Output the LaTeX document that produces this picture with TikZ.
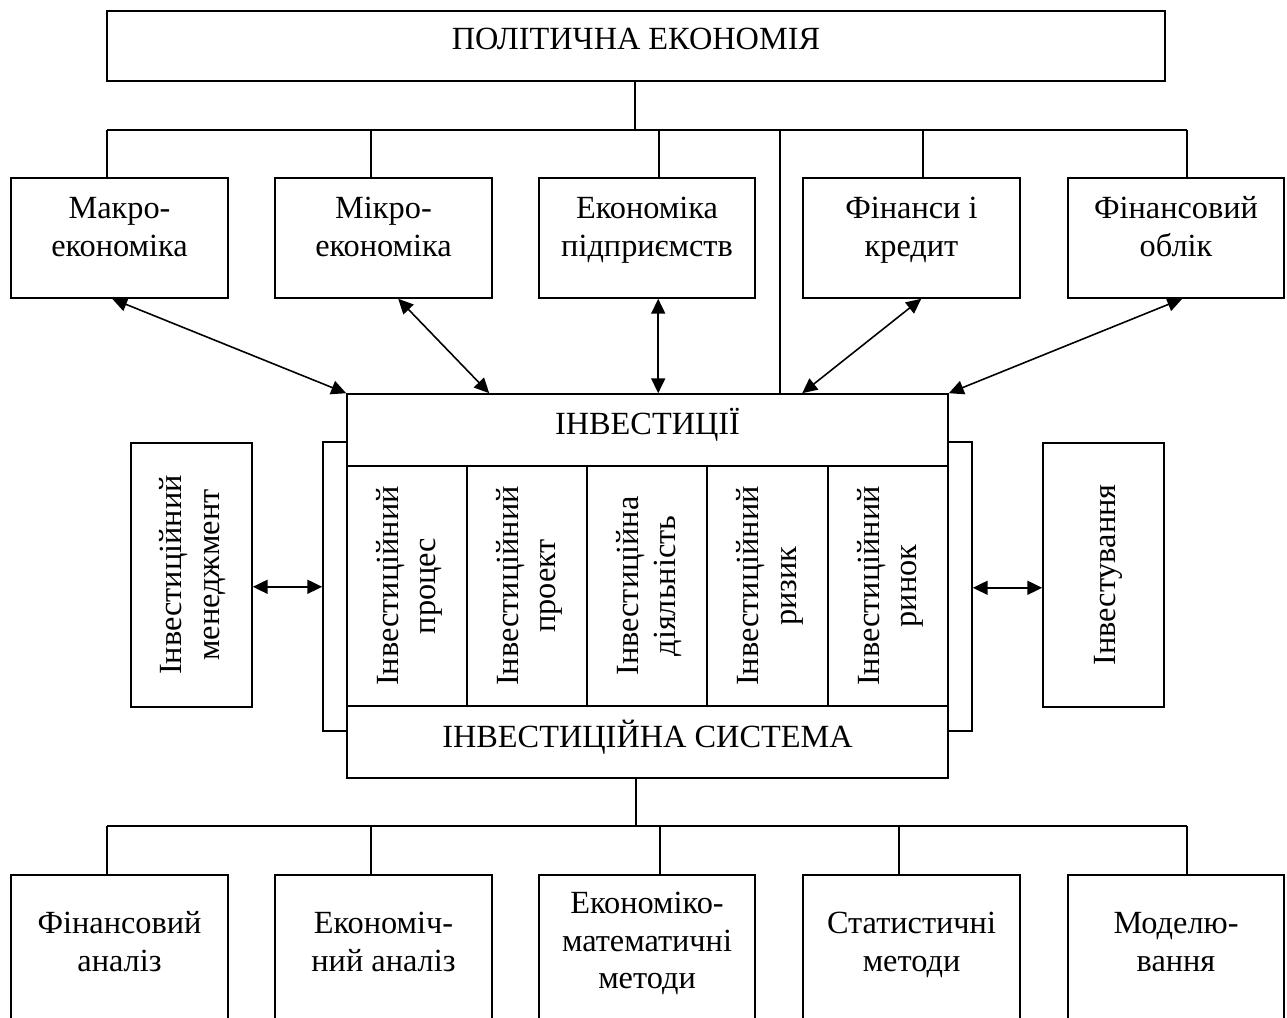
\documentclass[tikz,border=0pt]{standalone}
\usepackage{fontspec}
\setmainfont{Liberation Serif}
\usetikzlibrary{arrows.meta,fit,calc}
\begin{document}
\begin{tikzpicture}[x=0.02cm,y=-0.02cm,
  line width=0.9pt,
  box/.style={draw, inner sep=0pt, line width=0.9pt},
  lbl/.style={inner sep=0pt, align=center, font=\fontsize{18.4pt}{21.3pt}\selectfont},
  dbl/.style={{Triangle[length=8.5pt,width=8pt]}-{Triangle[length=8.5pt,width=8pt]}, line width=0.9pt}
]
\useasboundingbox (0,0) rectangle (1287,1017);
\clip (0,0) rectangle (1287,1017);

% boxes
\node[box, fit={(107,11) (1165,81)}] (top) {};
\node[box, fit={(11,178) (228,298)}] (m1) {};
\node[box, fit={(275,178) (492,298)}] (m2) {};
\node[box, fit={(539,178) (755,298)}] (m3) {};
\node[box, fit={(803,178) (1020,298)}] (m4) {};
\node[box, fit={(1068,178) (1284,298)}] (m5) {};

\node[box, fit={(323,442) (347,731)}] (brL) {};
\node[box, fit={(948,442) (972,731)}] (brR) {};

\node[box, fill=white, fit={(347,394) (948,466)}] (inv) {};
\node[box, fit={(347,466) (467,706)}] (c1) {};
\node[box, fit={(467,466) (587,706)}] (c2) {};
\node[box, fit={(587,466) (707,706)}] (c3) {};
\node[box, fit={(707,466) (828,706)}] (c4) {};
\node[box, fit={(828,466) (948,706)}] (c5) {};
\node[box, fit={(347,706) (948,778)}] (sys) {};

\node[box, fit={(131,443) (252,707)}] (lm) {};
\node[box, fit={(1043,443) (1164,707)}] (rm) {};

\node[box, fit={(11,875) (228,1045)}] (b1) {};
\node[box, fit={(275,875) (492,1045)}] (b2) {};
\node[box, fit={(539,875) (755,1045)}] (b3) {};
\node[box, fit={(803,875) (1020,1045)}] (b4) {};
\node[box, fit={(1068,875) (1284,1045)}] (b5) {};

% upper tree
\coordinate (hub) at (635,130);
\coordinate (t1) at (107,130);
\coordinate (t2) at (371,130);
\coordinate (t3) at (659,130);
\coordinate (t4) at (923,130);
\coordinate (t5) at (1187,130);
\coordinate (t6) at (780,130);
\draw (top.south -| hub) -- (hub);
\draw (t1) -- (t5);
\draw (t1) -- (t1 |- m1.north);
\draw (t2) -- (t2 |- m2.north);
\draw (t3) -- (t3 |- m3.north);
\draw (t4) -- (t4 |- m4.north);
\draw (t5) -- (t5 |- m5.north);
\draw (t6) -- (t6 |- inv.north);

% arrows to ІНВЕСТИЦІЇ
\draw[dbl] ($(m1.south west)+(102,0)$) -- (inv.north west);
\draw[dbl] ($(m2.south west)+(124,0)$) -- ($(inv.north west)+(143,0)$);
\draw[dbl] ($(m3.south west)+(120,0)$) -- ($(inv.north west)+(312,0)$);
\draw[dbl] ($(m4.south west)+(119,0)$) -- ($(inv.north west)+(456,0)$);
\draw[dbl] ($(m5.south west)+(115,0)$) -- (inv.north east);

% side arrows
\coordinate (la) at ($(lm.south east)+(0,-121)$);
\coordinate (ra) at ($(rm.south west)+(0,-120)$);
\draw[dbl] (la) -- (la -| brL.west);
\draw[dbl] (ra -| brR.east) -- (ra);

% lower tree
\coordinate (u0) at (636,826);
\coordinate (u1) at (107,826);
\coordinate (u2) at (371,826);
\coordinate (u3) at (660,826);
\coordinate (u4) at (899,826);
\coordinate (u5) at (1187,826);
\draw (sys.south -| u0) -- (u0);
\draw (u1) -- (u5);
\draw (u1) -- (u1 |- b1.north);
\draw (u2) -- (u2 |- b2.north);
\draw (u3) -- (u3 |- b3.north);
\draw (u4) -- (u4 |- b4.north);
\draw (u5) -- (u5 |- b5.north);

% texts
\node[lbl, anchor=base] (topt) at (636,50) {ПОЛІТИЧНА ЕКОНОМІЯ};
\node[lbl, anchor=north] (m1t) at (119.5,191.7) {\strut Макро-\\економіка};
\node[lbl, anchor=north] (m2t) at (383.5,191.7) {\strut Мікро-\\економіка};
\node[lbl, anchor=north] (m3t) at (647,191.7) {\strut Економіка\\підприємств};
\node[lbl, anchor=north] (m4t) at (911.5,191.7) {\strut Фінанси і\\кредит};
\node[lbl, anchor=north] (m5t) at (1176,191.7) {\strut Фінансовий\\облік};

\node[lbl, anchor=base] (invt) at (647.5,434) {ІНВЕСТИЦІЇ};
\node[lbl, anchor=base] (syst) at (647.5,747) {ІНВЕСТИЦІЙНА СИСТЕМА};

\node[lbl, rotate=90] (c1t) at (409.5,586) {\strut Інвестиційний\\процес\strut};
\node[lbl, rotate=90] (c2t) at (529.5,586) {\strut Інвестиційний\\проект\strut};
\node[lbl, rotate=90] (c3t) at (649.5,586) {\strut Інвестиційна\\діяльність\strut};
\node[lbl, rotate=90] (c4t) at (770,586) {\strut Інвестиційний\\ризик\strut};
\node[lbl, rotate=90] (c5t) at (890.5,586) {\strut Інвестиційний\\ринок\strut};

\node[lbl, rotate=90] (lmt) at (193,575) {\strut Інвестиційний\\менеджмент\strut};
\node[lbl, rotate=90, anchor=base] (rmt) at (1115,575) {Інвестування};

\node[lbl, anchor=north] (b1t) at (119.5,906.7) {\strut Фінансовий\\аналіз};
\node[lbl, anchor=north] (b2t) at (383.5,906.7) {\strut Економіч-\\ний аналіз};
\node[lbl, anchor=north] (b3t) at (647,886.7) {\strut Економіко-\\математичні\\методи};
\node[lbl, anchor=north] (b4t) at (911.5,906.7) {\strut Статистичні\\методи};
\node[lbl, anchor=north] (b5t) at (1176,906.7) {\strut Моделю-\\вання};
\end{tikzpicture}
\end{document}
